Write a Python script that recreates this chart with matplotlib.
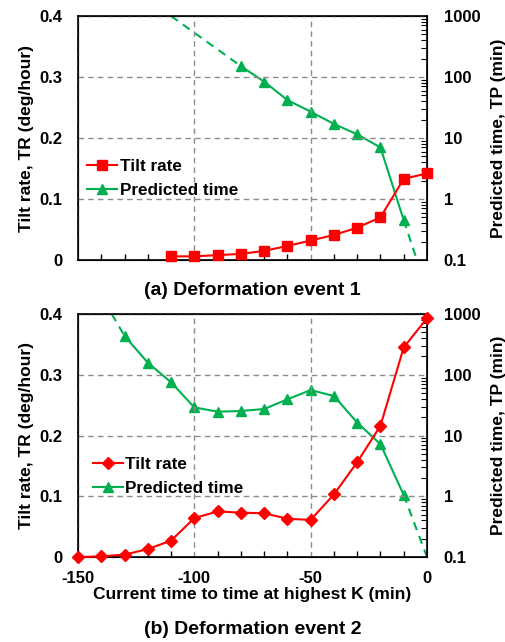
import numpy as np
import matplotlib
matplotlib.use('Agg')
import matplotlib.pyplot as plt
from matplotlib.ticker import FixedLocator, NullFormatter

plt.rcParams['font.family'] = ['Liberation Sans', 'DejaVu Sans']
plt.rcParams['font.weight'] = 'bold'
plt.rcParams['axes.unicode_minus'] = False

RED = '#FF0000'
GREEN = '#00B050'

# event 1
t1 = [-110, -100, -90, -80, -70, -60, -50, -40, -30, -20, -10, 0]
tr1 = [0.006, 0.006, 0.008, 0.010, 0.015, 0.023, 0.032, 0.041, 0.053, 0.070, 0.133, 0.142]
tp1_t = [-80, -70, -60, -50, -40, -30, -20, -10]
tp1 = [151, 84, 42, 27, 17, 11.5, 7.0, 0.45]
# dashed extrapolation ends (start, end)
ext1_left = ([-110, -80], [1000, 151])
ext1_right = ([-10, -4.3], [0.45, 0.1])

# event 2
t2 = [-150, -140, -130, -120, -110, -100, -90, -80, -70, -60, -50, -40, -30, -20, -10, 0]
tr2 = [0.0, 0.001, 0.004, 0.013, 0.027, 0.064, 0.075, 0.073, 0.072, 0.063, 0.061,
       0.103, 0.156, 0.216, 0.345, 0.393]
tp2_t = [-130, -120, -110, -100, -90, -80, -70, -60, -50, -40, -30, -20, -10]
tp2 = [435, 158, 75, 29, 24.7, 25.3, 27.3, 39.4, 56, 44.7, 16.3, 7.2, 1.05]
ext2_left = ([-135.5, -130], [1000, 435])
ext2_right = ([-10, 0], [1.05, 0.1])

tr_ticks = [0, 0.1, 0.2, 0.3, 0.4]
tr_labels = ['0', '0.1', '0.2', '0.3', '0.4']
tp_ticks = [0.1, 1, 10, 100, 1000]
tp_labels = ['0.1', '1', '10', '100', '1000']
x_ticks = [-150, -100, -50, 0]

fig = plt.figure(figsize=(5.05, 6.42), dpi=100)


def panel(rect, t, tr, tp_t, tp, ext_l, ext_r, tr_marker, tr_ms, show_x, leg_anchor):
    ax = fig.add_axes(rect)
    ax.set_xlim(-150, 0)
    ax.set_ylim(0, 0.4)
    ax.set_yticks(tr_ticks)
    ax.set_yticklabels(tr_labels)
    ax.set_xticks(x_ticks)
    ax.xaxis.set_minor_locator(FixedLocator(np.arange(-150, 1, 10)))
    ax.tick_params(axis='x', which='both', direction='in', length=4, width=1, pad=10,
                   labelsize=12)
    ax.tick_params(axis='x', which='major', length=0)
    ax.tick_params(axis='y', length=0, pad=11, labelsize=12)
    if not show_x:
        ax.set_xticklabels([])
    ax.grid(True, color='#8c8c8c', linestyle=(0, (4, 3)), linewidth=1)
    for s in ax.spines.values():
        s.set_linewidth(1.2)
    ax.set_ylabel('Tilt rate, TR (deg/hour)', fontsize=12.5, fontweight='bold', labelpad=4)
    l1, = ax.plot(t, tr, color=RED, marker=tr_marker, markersize=tr_ms, linewidth=1.5,
                  label='Tilt rate', clip_on=False, zorder=5)

    ax2 = ax.twinx()
    ax2.set_yscale('log')
    ax2.set_ylim(0.1, 1000)
    ax2.set_yticks(tp_ticks)
    ax2.set_yticklabels(tp_labels)
    ax2.yaxis.set_minor_formatter(NullFormatter())
    ax2.tick_params(axis='y', which='both', direction='in', labelsize=12, pad=12)
    ax2.tick_params(axis='y', which='major', length=0)
    ax2.tick_params(axis='y', which='minor', length=4, width=0.8)
    ax2.set_ylabel('Predicted time, TP (min)', fontsize=12.5, fontweight='bold', labelpad=8)
    l2, = ax2.plot(tp_t, tp, color=GREEN, marker='^', markersize=7.5, linewidth=1.5,
                   label='Predicted time', zorder=4)
    ax2.plot(ext_l[0], ext_l[1], color=GREEN, linestyle=(0, (4, 3)), linewidth=1.5)
    ax2.plot(ext_r[0], ext_r[1], color=GREEN, linestyle=(0, (4, 3)), linewidth=1.5)

    ax.set_zorder(ax2.get_zorder() + 1)
    ax.patch.set_visible(False)

    ax.legend([l1, l2], ['Tilt rate', 'Predicted time'], loc='upper left',
              bbox_to_anchor=leg_anchor, frameon=False, fontsize=12.3,
              handlelength=1.75, handletextpad=0.15, labelspacing=0.55,
              borderpad=0, borderaxespad=0)
    return ax


axa = panel([0.1545, 0.595, 0.691, 0.380], t1, tr1, tp1_t, tp1, ext1_left, ext1_right,
            's', 7.5, False, (0.026, 0.415))
axb = panel([0.1545, 0.1324, 0.691, 0.3785], t2, tr2, tp2_t, tp2, ext2_left, ext2_right,
            'D', 6, True, (0.043, 0.412))
axb.set_xlabel('Current time to time at highest K (min)', fontsize=12.5, fontweight='bold',
               labelpad=1)

fig.text(0.5, 0.548, '(a) Deformation event 1', ha='center', va='center',
         fontsize=14, fontweight='bold')
fig.text(0.5, 0.019, '(b) Deformation event 2', ha='center', va='center',
         fontsize=14, fontweight='bold')

fig.savefig('out.png', dpi=100)
